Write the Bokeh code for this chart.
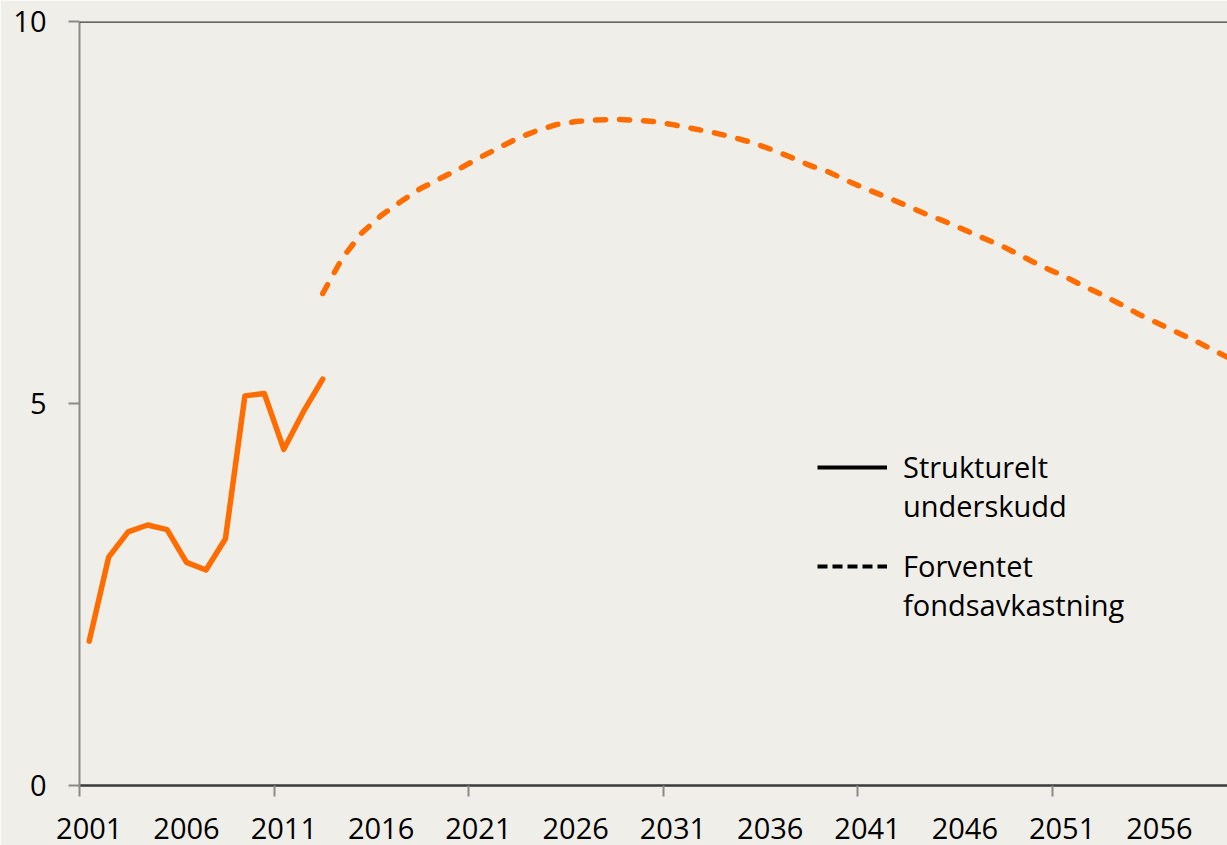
from bokeh.plotting import figure
from bokeh.models import Range1d, FixedTicker, Span, Legend, LegendItem
from bokeh.embed import file_html
from bokeh.resources import INLINE

# Data
hist_years = list(range(2001, 2014))
hist_vals = [1.89, 2.99, 3.32, 3.41, 3.35, 2.92, 2.82, 3.23, 5.10, 5.13, 4.40, 4.89, 5.32]

proj_years = list(range(2013, 2061))
proj_vals = [6.44, 6.90, 7.23, 7.46, 7.64, 7.81, 7.94, 8.07, 8.21, 8.34,
             8.47, 8.57, 8.65, 8.69, 8.71, 8.72, 8.71, 8.69, 8.65, 8.60,
             8.55, 8.49, 8.42, 8.33, 8.23, 8.12, 8.03, 7.91, 7.80, 7.70,
             7.59, 7.48, 7.38, 7.27, 7.16, 7.05, 6.92, 6.79, 6.68, 6.55,
             6.43, 6.30, 6.16, 6.04, 5.92, 5.80, 5.67, 5.54]

x_label_years = list(range(2001, 2060, 5))
x_boundaries = [y - 0.5 for y in range(2001, 2061, 10)]
y_ticks = [0, 5, 10]

legend_solid_lines = ["Strukturelt", "underskudd"]
legend_dash_lines = ["Forventet", "fondsavkastning"]

BG = "#EFEEE8"
ORANGE = "#FF6C00"
FONT = "Open Sans"
NAN = float("nan")

p = figure(width=1227, height=845, output_backend="svg", toolbar_location=None,
           x_range=Range1d(2000.5, 2059.5), y_range=Range1d(0, 10),
           min_border_left=79, min_border_top=21, min_border_right=0, min_border_bottom=60)
p.background_fill_color = BG
p.border_fill_color = BG
p.outline_line_color = None
p.xgrid.visible = False
p.ygrid.visible = False

# x axis
xa = p.xaxis[0]
xa.ticker = FixedTicker(ticks=x_label_years, minor_ticks=x_boundaries)
xa.major_tick_line_color = None
xa.major_tick_out = 0
xa.major_tick_in = 0
xa.minor_tick_line_color = "#8a8a8a"
xa.minor_tick_line_width = 2
xa.minor_tick_out = 11
xa.minor_tick_in = 0
xa.axis_line_color = "#3a3a3a"
xa.axis_line_width = 2.5
xa.major_label_text_font = FONT
xa.major_label_text_font_size = "29px"
xa.major_label_text_color = "#000000"
xa.major_label_standoff = 21

# y axis
ya = p.yaxis[0]
ya.ticker = FixedTicker(ticks=y_ticks, minor_ticks=[])
ya.major_tick_line_color = "#8a8a8a"
ya.major_tick_line_width = 2
ya.major_tick_out = 11
ya.major_tick_in = 0
ya.axis_line_color = "#8a8a8a"
ya.axis_line_width = 2
ya.major_label_text_font = FONT
ya.major_label_text_font_size = "29px"
ya.major_label_text_color = "#000000"
ya.major_label_standoff = 22

# top border line
p.add_layout(Span(location=10, dimension="width", line_color="#3a3a3a", line_width=2.5))

# data lines
p.line(hist_years, hist_vals, line_color=ORANGE, line_width=5.5, line_join="round", line_cap="round")
p.line(proj_years, proj_vals, line_color=ORANGE, line_width=5.5, line_dash="10 14",
       line_cap="round", line_join="round")

# legend key renderers (no visible data)
r_solid = p.line([NAN], [NAN], line_color="black", line_width=4)
r_dash = p.line([NAN], [NAN], line_color="black", line_width=4, line_dash="10 5")
r_blank = p.line([NAN], [NAN], line_alpha=0)


def make_legend(lines, renderer, loc):
    lg = Legend(items=[LegendItem(label=lines[0], renderers=[renderer]),
                       LegendItem(label=lines[1], renderers=[r_blank])],
                location=loc)
    lg.background_fill_alpha = 0
    lg.border_line_color = None
    lg.label_text_font = FONT
    lg.label_text_font_size = "29px"
    lg.label_text_color = "#000000"
    lg.glyph_width = 70
    lg.glyph_height = 30
    lg.label_standoff = 16
    lg.spacing = -3
    lg.padding = 0
    lg.margin = 0
    return lg


p.add_layout(make_legend(legend_solid_lines, r_solid, (738, 260)))
p.add_layout(make_legend(legend_dash_lines, r_dash, (738, 161)))

open("out.html", "w").write(file_html(p, INLINE))
